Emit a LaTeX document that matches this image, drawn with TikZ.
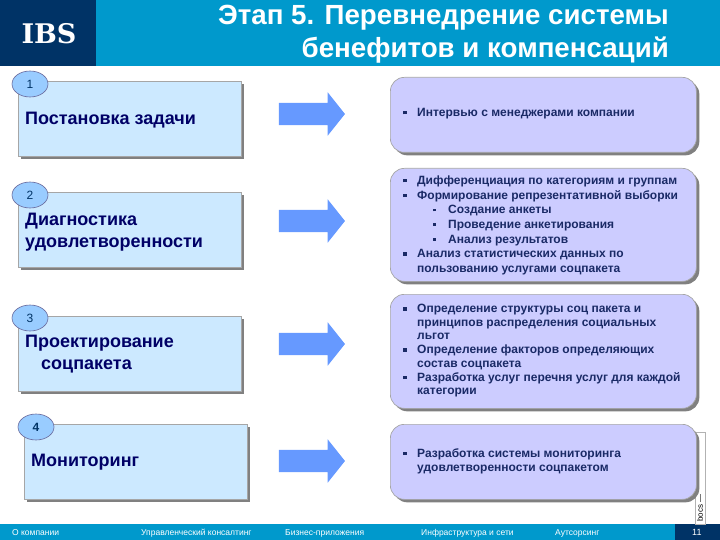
\documentclass[tikz,border=0pt]{standalone}
\usepackage{fontspec}
\setmainfont{Liberation Sans}
\newfontfamily\logofont{DejaVu Serif}
\usetikzlibrary{shapes.geometric,shapes.arrows,shadows}
\definecolor{navyblue}{HTML}{003366}
\definecolor{bandblue}{HTML}{0099CC}
\definecolor{leftfill}{HTML}{CCE9FF}
\definecolor{rightfill}{HTML}{CCCCFF}
\definecolor{ovalfill}{HTML}{99CCFF}
\definecolor{arrowfill}{HTML}{6699FF}
\definecolor{textnavy}{HTML}{000066}
\definecolor{listnavy}{HTML}{1A2A66}
\newcommand{\itemA}[1]{\makebox[14pt][l]{\raisebox{2pt}{\rule{3.5pt}{3.5pt}}}#1}
\newcommand{\itemB}[1]{\hspace{30pt}\makebox[15pt][l]{\raisebox{2.5pt}{\rule{2.5pt}{2.5pt}}}#1}
\newcommand{\itemC}[1]{\hspace{14pt}#1}
\tikzset{
  stagebox/.style={draw=gray!70,fill=leftfill,line width=0.7pt,anchor=north west,inner sep=0pt,minimum width=223pt,minimum height=75pt,
    drop shadow={shadow xshift=3pt,shadow yshift=-3pt,fill=gray,opacity=1}},
  detailbox/.style={draw=gray!70,fill=rightfill,line width=0.7pt,anchor=north west,inner sep=0pt,rounded corners=14pt,minimum width=306pt,
    drop shadow={shadow xshift=3pt,shadow yshift=-3pt,fill=gray,opacity=1}},
  stageoval/.style={ellipse,draw=gray!80!blue,fill=ovalfill,line width=0.6pt,inner sep=0pt,minimum width=36pt,minimum height=26pt,text=navyblue,font=\fontsize{12}{14}\selectfont},
  bigarrow/.style={single arrow,fill=arrowfill,inner xsep=0pt,inner ysep=11pt,minimum height=66pt,single arrow head extend=10.5pt,single arrow tip angle=103},
  stagetext/.style={anchor=west,inner sep=0pt,align=left,text=textnavy,font=\fontsize{18}{22}\selectfont\bfseries},
  listtext/.style={anchor=north west,inner sep=0pt,align=left,text=listnavy,font=\fontsize{12}{#1}\selectfont\bfseries},
  bandtext/.style={anchor=base west,inner sep=0pt,text=white,font=\fontsize{8.5}{9}\selectfont},
}
\begin{document}
\begin{tikzpicture}[x=1pt,y=-1pt]
    \useasboundingbox (0,0) rectangle (720,540);
    % header
    \fill[bandblue] (0,0) rectangle (720,66);
    \fill[navyblue] (0,0) rectangle (96,66);
    \node[inner sep=0pt,text=white,font=\fontsize{27}{28}\selectfont\logofont\bfseries] (logo) at (49,34) {IBS};
    \node[anchor=east,inner sep=0pt,align=right,text=white,font=\fontsize{27.7}{33}\selectfont\bfseries] (title) at (669,34.5) {Этап 5. Перевнедрение системы\\бенефитов и компенсаций};
    % footer
    \fill[bandblue] (0,524) rectangle (720,540);
    \fill[navyblue] (675,524) rectangle (720,540);
    \node[bandtext] (about) at (12,535) {О компании};
    \node[bandtext] (consult) at (141,535) {Управленческий консалтинг};
    \node[bandtext] (apps) at (285,535) {Бизнес-приложения};
    \node[bandtext] (infra) at (421,535) {Инфраструктура и сети};
    \node[bandtext] (outsrc) at (555,535) {Аутсорсинг};
    \node[bandtext] (pageno) at (692,535.5) {\fontsize{9}{10}\selectfont 11};
    % side strip
    \draw[gray!60,fill=white] (695,432) rectangle (705,524);
    \node[rotate=90,anchor=west,inner sep=0pt,text=black,font=\fontsize{8}{9}\selectfont] (stamp) at (700,522) {bocs ---};
    % left column
    \node[stagebox] (stageA) at (18,81) {};
    \node[stagebox] (stageB) at (18,192) {};
    \node[stagebox] (stageC) at (18,316) {};
    \node[stagebox] (stageD) at (24,424) {};
    \node[stageoval] (ovalA) at (30,84) {1};
    \node[stageoval] (ovalB) at (30,195) {2};
    \node[stageoval] (ovalC) at (30,318) {3};
    \node[stageoval] (ovalD) at (36,427) {\bfseries 4};
    \node[stagetext] (textA) at (25,120) {Постановка задачи};
    \node[stagetext] (textB) at (25,232) {Диагностика\\удовлетворенности};
    \node[stagetext] (textC) at (25,354.5) {Проектирование\\\hspace{16pt}соцпакета};
    \node[stagetext] (textD) at (31,462) {Мониторинг};
    % arrows
    \node[bigarrow] (arrowA) at (307.5,114) {};
    \node[bigarrow] (arrowB) at (307.5,221) {};
    \node[bigarrow] (arrowC) at (307.5,344) {};
    \node[bigarrow] (arrowD) at (307.5,461) {};
    % right column
    \node[detailbox,minimum height=75pt] (detailA) at (390,77) {};
    \node[detailbox,minimum height=113pt] (detailB) at (390,168) {};
    \node[detailbox,minimum height=114pt] (detailC) at (390,294) {};
    \node[detailbox,minimum height=75pt] (detailD) at (390,424) {};
    \node[listtext=14] (listA) at (403,108) {\itemA{Интервью с менеджерами компании}};
    \node[listtext=14.7] (listB) at (403,175.5) {\itemA{Дифференциация по категориям и группам}\\
      \itemA{Формирование репрезентативной выборки}\\
      \itemB{Создание анкеты}\\
      \itemB{Проведение анкетирования}\\
      \itemB{Анализ результатов}\\
      \itemA{Анализ статистических данных по}\\
      \itemC{пользованию услугами соцпакета}};
    \node[listtext=13.7] (listC) at (403,304) {\itemA{Определение структуры соц пакета и}\\
      \itemC{принципов распределения социальных}\\
      \itemC{льгот}\\
      \itemA{Определение факторов определяющих}\\
      \itemC{состав соцпакета}\\
      \itemA{Разработка услуг перечня услуг для каждой}\\
      \itemC{категории}};
    \node[listtext=14.7] (listD) at (403,448) {\itemA{Разработка системы мониторинга}\\
      \itemC{удовлетворенности соцпакетом}};
  \end{tikzpicture}
\end{document}
